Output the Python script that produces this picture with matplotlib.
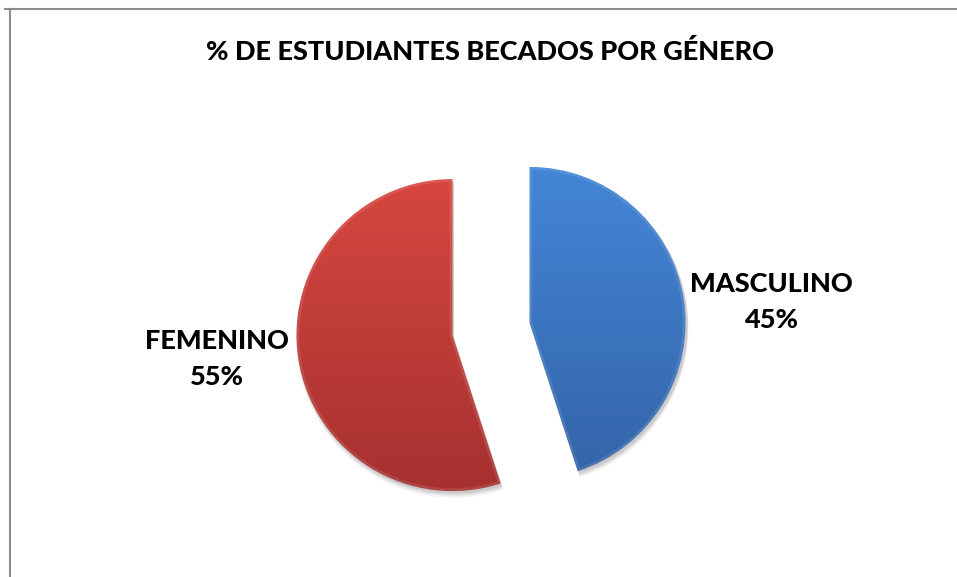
import matplotlib.pyplot as plt
import matplotlib.colors as mcolors
from matplotlib.patches import Wedge
import numpy as np

# data
labels = ['MASCULINO', 'FEMENINO']
shares = [45, 55]
top_colors = ['#4386D6', '#D6473F']
bottom_colors = ['#3464A8', '#A63130']

W, H = 957, 577
fig = plt.figure(figsize=(W / 100, H / 100), dpi=100)
ax = fig.add_axes([0, 0, 1, 1])

cx, cy, r = 491, H - 329, 156
# explode offset is applied in data units, so scale it by the radius
wedges, _ = ax.pie(shares, center=(cx, cy), radius=r, startangle=90,
                   counterclock=False, explode=[0.25 * r, 0.25 * r],
                   colors=top_colors, frame=True,
                   wedgeprops=dict(linewidth=0))
ax.set_xlim(0, W)
ax.set_ylim(0, H)
ax.set_aspect('equal')
ax.axis('off')

grad = np.linspace(0, 1, 256).reshape(-1, 1)
for w, c0, c1 in zip(wedges, top_colors, bottom_colors):
    x0, y0 = w.center
    # soft drop shadow
    for k, a in [(5, 0.05), (3.5, 0.07), (2, 0.09)]:
        ax.add_patch(Wedge((x0 + 1.5, y0 - k), r + k * 0.3, w.theta1, w.theta2,
                           facecolor='#000000', alpha=a, lw=0, zorder=1))
    # vertical gradient fill clipped to the wedge
    cmap = mcolors.LinearSegmentedColormap.from_list('g', [c1, c0])
    im = ax.imshow(grad, cmap=cmap, origin='lower', aspect='auto',
                   extent=(x0 - r, x0 + r, y0 - r, y0 + r), zorder=2)
    im.set_clip_path(w)
    w.set_facecolor('none')
    w.set_edgecolor('none')
    # bevel rim: light inner edge
    rim = Wedge((x0, y0), r, w.theta1, w.theta2, facecolor='none',
                edgecolor='white', lw=4, alpha=0.1, zorder=3)
    ax.add_patch(rim)
    rim.set_clip_path(w)
ax.set_xlim(0, W)
ax.set_ylim(0, H)

# labels
font = 'Lato'
ax.text(771, H - 302, 'MASCULINO\n45%', ha='center', va='center',
        fontsize=19.5, fontweight='black', family=font, linespacing=1.6)
ax.text(217, H - 359, 'FEMENINO\n55%', ha='center', va='center',
        fontsize=19.5, fontweight='black', family=font, linespacing=1.6)

fig.text(490 / W, 1 - 52 / H, '% DE ESTUDIANTES BECADOS POR GÉNERO',
         ha='center', va='center', fontsize=19.5, fontweight='black', family=font)

# chart area frame (top and left edges)
fig.add_artist(plt.Line2D([5 / W, 1], [1 - 9 / H, 1 - 9 / H], color='#8c8c8c', lw=1.5))
fig.add_artist(plt.Line2D([9.5 / W, 9.5 / W], [0, 1 - 9 / H], color='#8c8c8c', lw=1.5))

fig.savefig('out.png', dpi=100)
